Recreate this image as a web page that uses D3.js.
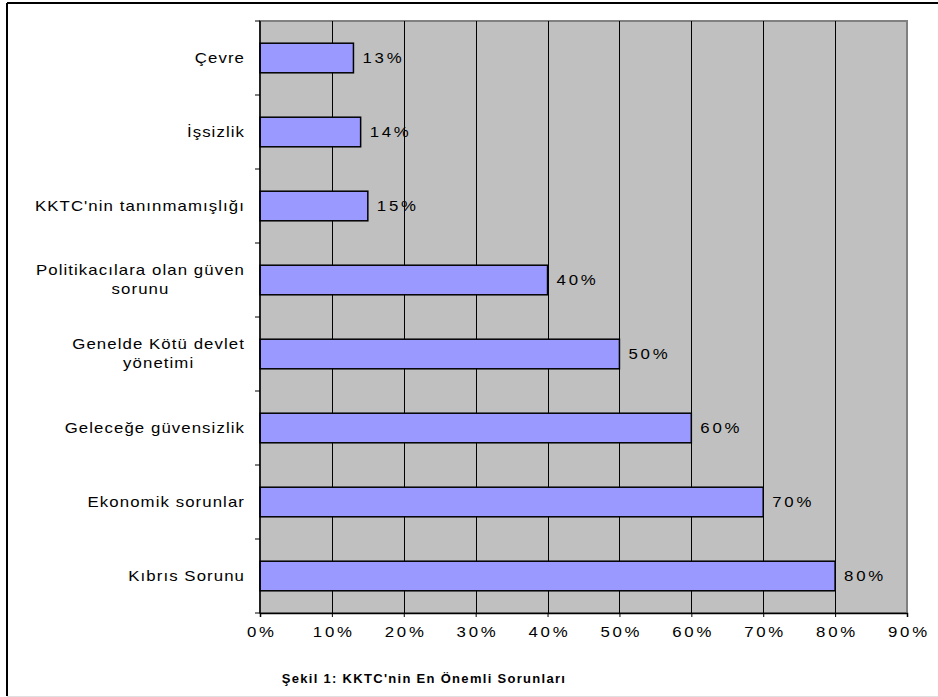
<!DOCTYPE html>
<html>
<head>
<meta charset="utf-8">
<script src="https://cdn.jsdelivr.net/npm/d3@7"></script>
<style>
  body { margin: 0; background: #fff; }
  svg text { font-family: "Liberation Sans", Arial, sans-serif; fill: #000; }
</style>
</head>
<body>
<div class="chart"></div>
<script>
// data
var categories = [
    "Çevre",
    "İşsizlik",
    "KKTC'nin tanınmamışlığı",
    "Politikacılara olan güven\nsorunu",
    "Genelde Kötü devlet\nyönetimi",
    "Geleceğe güvensizlik",
    "Ekonomik sorunlar",
    "Kıbrıs Sorunu"
];
var values = [13, 14, 15, 40, 50, 60, 70, 80];
var xTicks = [0, 10, 20, 30, 40, 50, 60, 70, 80, 90];
var title = "Şekil 1: KKTC'nin En Önemli Sorunları";

var W = 938, H = 697;
var plot = { left: 260, top: 21, right: 907, bottom: 613 };
var sx = 1.2; // the original text is drawn a bit stretched sideways

var svg = d3.select("div.chart").append("svg")
    .attr("width", W)
    .attr("height", H);

// outer frame
svg.append("line").attr("x1", 7).attr("y1", 3).attr("x2", W).attr("y2", 3)
    .attr("stroke", "#000").attr("stroke-width", 2);
svg.append("line").attr("x1", 7).attr("y1", 3).attr("x2", 7).attr("y2", 696)
    .attr("stroke", "#000").attr("stroke-width", 2);
svg.append("line").attr("x1", 7).attr("y1", 696.5).attr("x2", W).attr("y2", 696.5)
    .attr("stroke", "#e0e0e0").attr("stroke-width", 1);

var xScale = d3.scaleLinear().domain([0, 90]).range([plot.left, plot.right]);
var yScale = d3.scaleBand().domain(categories).range([plot.top, plot.bottom])
    .paddingInner(0.6).paddingOuter(0.3);
var yBand = d3.scaleBand().domain(categories).range([plot.top, plot.bottom]);

// plot background
svg.append("rect")
    .attr("x", plot.left).attr("y", plot.top)
    .attr("width", plot.right - plot.left).attr("height", plot.bottom - plot.top)
    .attr("fill", "#c0c0c0")
    .attr("stroke", "#808080").attr("stroke-width", 2);

// vertical grid
svg.append("g").selectAll("line")
    .data(xTicks.slice(1, -1))
    .enter().append("line")
    .attr("x1", function(d) { return Math.round(xScale(d)) + 0.5; })
    .attr("x2", function(d) { return Math.round(xScale(d)) + 0.5; })
    .attr("y1", plot.top)
    .attr("y2", plot.bottom)
    .attr("stroke", "#000")
    .attr("stroke-width", 1);

// bars
svg.append("g").selectAll("rect")
    .data(values)
    .enter().append("rect")
    .attr("x", xScale(0))
    .attr("y", function(d, i) { return yScale(categories[i]); })
    .attr("width", function(d) { return xScale(d) - xScale(0); })
    .attr("height", yScale.bandwidth())
    .attr("fill", "#9999ff")
    .attr("stroke", "#000")
    .attr("stroke-width", 1.5);

// value labels
svg.append("g").selectAll("text")
    .data(values)
    .enter().append("text")
    .attr("transform", "scale(" + sx + ",1)")
    .attr("x", function(d) { return (xScale(d) + 9) / sx; })
    .attr("y", function(d, i) { return yScale(categories[i]) + yScale.bandwidth() / 2; })
    .attr("dy", "0.35em")
    .style("font-size", "14px")
    .style("letter-spacing", "2.3px")
    .text(function(d) { return d + "%"; });

// x axis
var xAxis = d3.axisBottom(xScale)
    .tickValues(xTicks)
    .tickSize(4)
    .tickPadding(10)
    .tickFormat(function(d) { return d + "%"; });
var gx = svg.append("g")
    .attr("transform", "translate(0," + plot.bottom + ")")
    .call(xAxis);
gx.select(".domain").attr("stroke", "#000").attr("stroke-width", 1.5);
gx.selectAll(".tick line").attr("stroke", "#000");
gx.selectAll(".tick text")
    .attr("transform", "scale(" + sx + ",1)")
    .style("font-size", "14px")
    .style("letter-spacing", "2.3px")
    .attr("dx", "1.15px")
    .style("font-family", "'Liberation Sans', Arial, sans-serif");

// y axis line + ticks at band edges
svg.append("line")
    .attr("x1", plot.left).attr("x2", plot.left)
    .attr("y1", plot.top).attr("y2", plot.bottom)
    .attr("stroke", "#000").attr("stroke-width", 1.5);
var edges = categories.map(function(c) { return yBand(c); }).concat([plot.bottom]);
svg.append("g").selectAll("line")
    .data(edges)
    .enter().append("line")
    .attr("x1", plot.left - 5).attr("x2", plot.left)
    .attr("y1", function(d) { return d; })
    .attr("y2", function(d) { return d; })
    .attr("stroke", "#000");

// category labels (multi-line ones centred on their widest line)
var labelRight = 245, lineH = 19;
categories.forEach(function(c) {
    var lines = c.split("\n");
    var cy = yScale(c) + yScale.bandwidth() / 2;
    var g = svg.append("g").attr("transform", "scale(" + sx + ",1)");
    var texts = lines.map(function(l, j) {
        return g.append("text")
            .attr("y", cy + (j - (lines.length - 1) / 2) * lineH)
            .attr("dy", "0.35em")
            .style("font-size", "14px")
            .style("letter-spacing", "0.9px")
            .text(l);
    });
    var maxW = d3.max(texts, function(t) { return t.node().getComputedTextLength(); });
    texts.forEach(function(t) {
        t.attr("x", labelRight / sx - maxW / 2).attr("text-anchor", "middle");
    });
});

// caption
svg.append("text")
    .attr("x", 424)
    .attr("y", 683)
    .attr("text-anchor", "middle")
    .style("font-size", "13px")
    .style("font-weight", "bold")
    .style("letter-spacing", "1.3px")
    .text(title);
</script>
</body>
</html>
